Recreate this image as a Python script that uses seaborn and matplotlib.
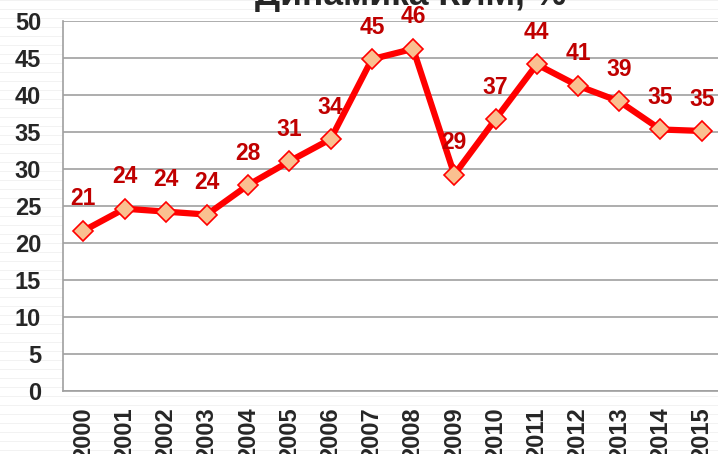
import numpy as np
import pandas as pd
import matplotlib
matplotlib.use("Agg")
import matplotlib.pyplot as plt
import seaborn as sns

# Data
years = ["2000", "2001", "2002", "2003", "2004", "2005", "2006", "2007",
         "2008", "2009", "2010", "2011", "2012", "2013", "2014", "2015"]
values = [21.6, 24.6, 24.2, 23.8, 27.8, 31.0, 34.0, 44.8,
          46.2, 29.2, 36.7, 44.1, 41.2, 39.1, 35.3, 35.1]
labels = ["21", "24", "24", "24", "28", "31", "34", "45",
          "46", "29", "37", "44", "41", "39", "35", "35"]
y_ticks = [0, 5, 10, 15, 20, 25, 30, 35, 40, 45, 50]
title = "Динамика КИМ, %"

df = pd.DataFrame({"year": years, "value": values})
df["pos"] = range(len(years))

sns.set_style("white")
plt.rcParams["font.family"] = ["Liberation Sans", "DejaVu Sans"]

fig = plt.figure(figsize=(7.18, 4.54), dpi=100)

# faint striped background like the source slide
H, W = 454, 718
bg = np.ones((H, W, 3))
bg[::9, :, :] = 0.95
fig.figimage(bg, xo=0, yo=0, zorder=-10)

ax = fig.add_axes([62.7 / W, (H - 390.7) / H, (722.3 - 62.7) / W, 370 / H])
ax.set_zorder(1)
ax.set_facecolor("white")

sns.lineplot(data=df, x="pos", y="value", ax=ax, color="#ff0000", lw=4.5,
             marker="D", markersize=10.5, markerfacecolor="#fac090",
             markeredgecolor="#ff0000", markeredgewidth=1.2, zorder=3)

for p, v, t in zip(df["pos"], df["value"], labels):
    ax.annotate(t, (p, v), xytext=(0, 23), textcoords="offset points",
                ha="center", va="center", fontsize=16.5, fontweight="bold",
                color="#c00000", zorder=4)

ax.set_xlim(-0.5, len(years) - 0.5)
ax.set_ylim(0, 50)
ax.set_yticks(y_ticks)
ax.set_yticklabels([str(t) for t in y_ticks], fontsize=17, fontweight="bold")
ax.set_xticks(df["pos"])
ax.set_xticklabels(years, rotation=90, fontsize=17, fontweight="bold")
ax.set_xticks(np.arange(-0.5, len(years), 1), minor=True)
ax.tick_params(axis="x", which="major", length=0, pad=12)
ax.tick_params(axis="x", which="minor", length=4.5, width=1, color="#a0a0a0",
               direction="out")
ax.tick_params(axis="y", length=5, width=1, color="#a0a0a0", direction="out",
               pad=10.5)
ax.yaxis.grid(True, color="#a0a0a0", lw=1.2)
ax.set_axisbelow(True)
ax.set_xlabel("")
ax.set_ylabel("")
for s in ["top", "right"]:
    ax.spines[s].set_visible(False)
for s in ["left", "bottom"]:
    ax.spines[s].set_color("#a0a0a0")
    ax.spines[s].set_linewidth(1.2)

fig.text(411 / W, 1 - 5 / H, title, ha="center", va="baseline", fontsize=25.5,
         fontweight="bold")

fig.savefig("out.png", dpi=100)
